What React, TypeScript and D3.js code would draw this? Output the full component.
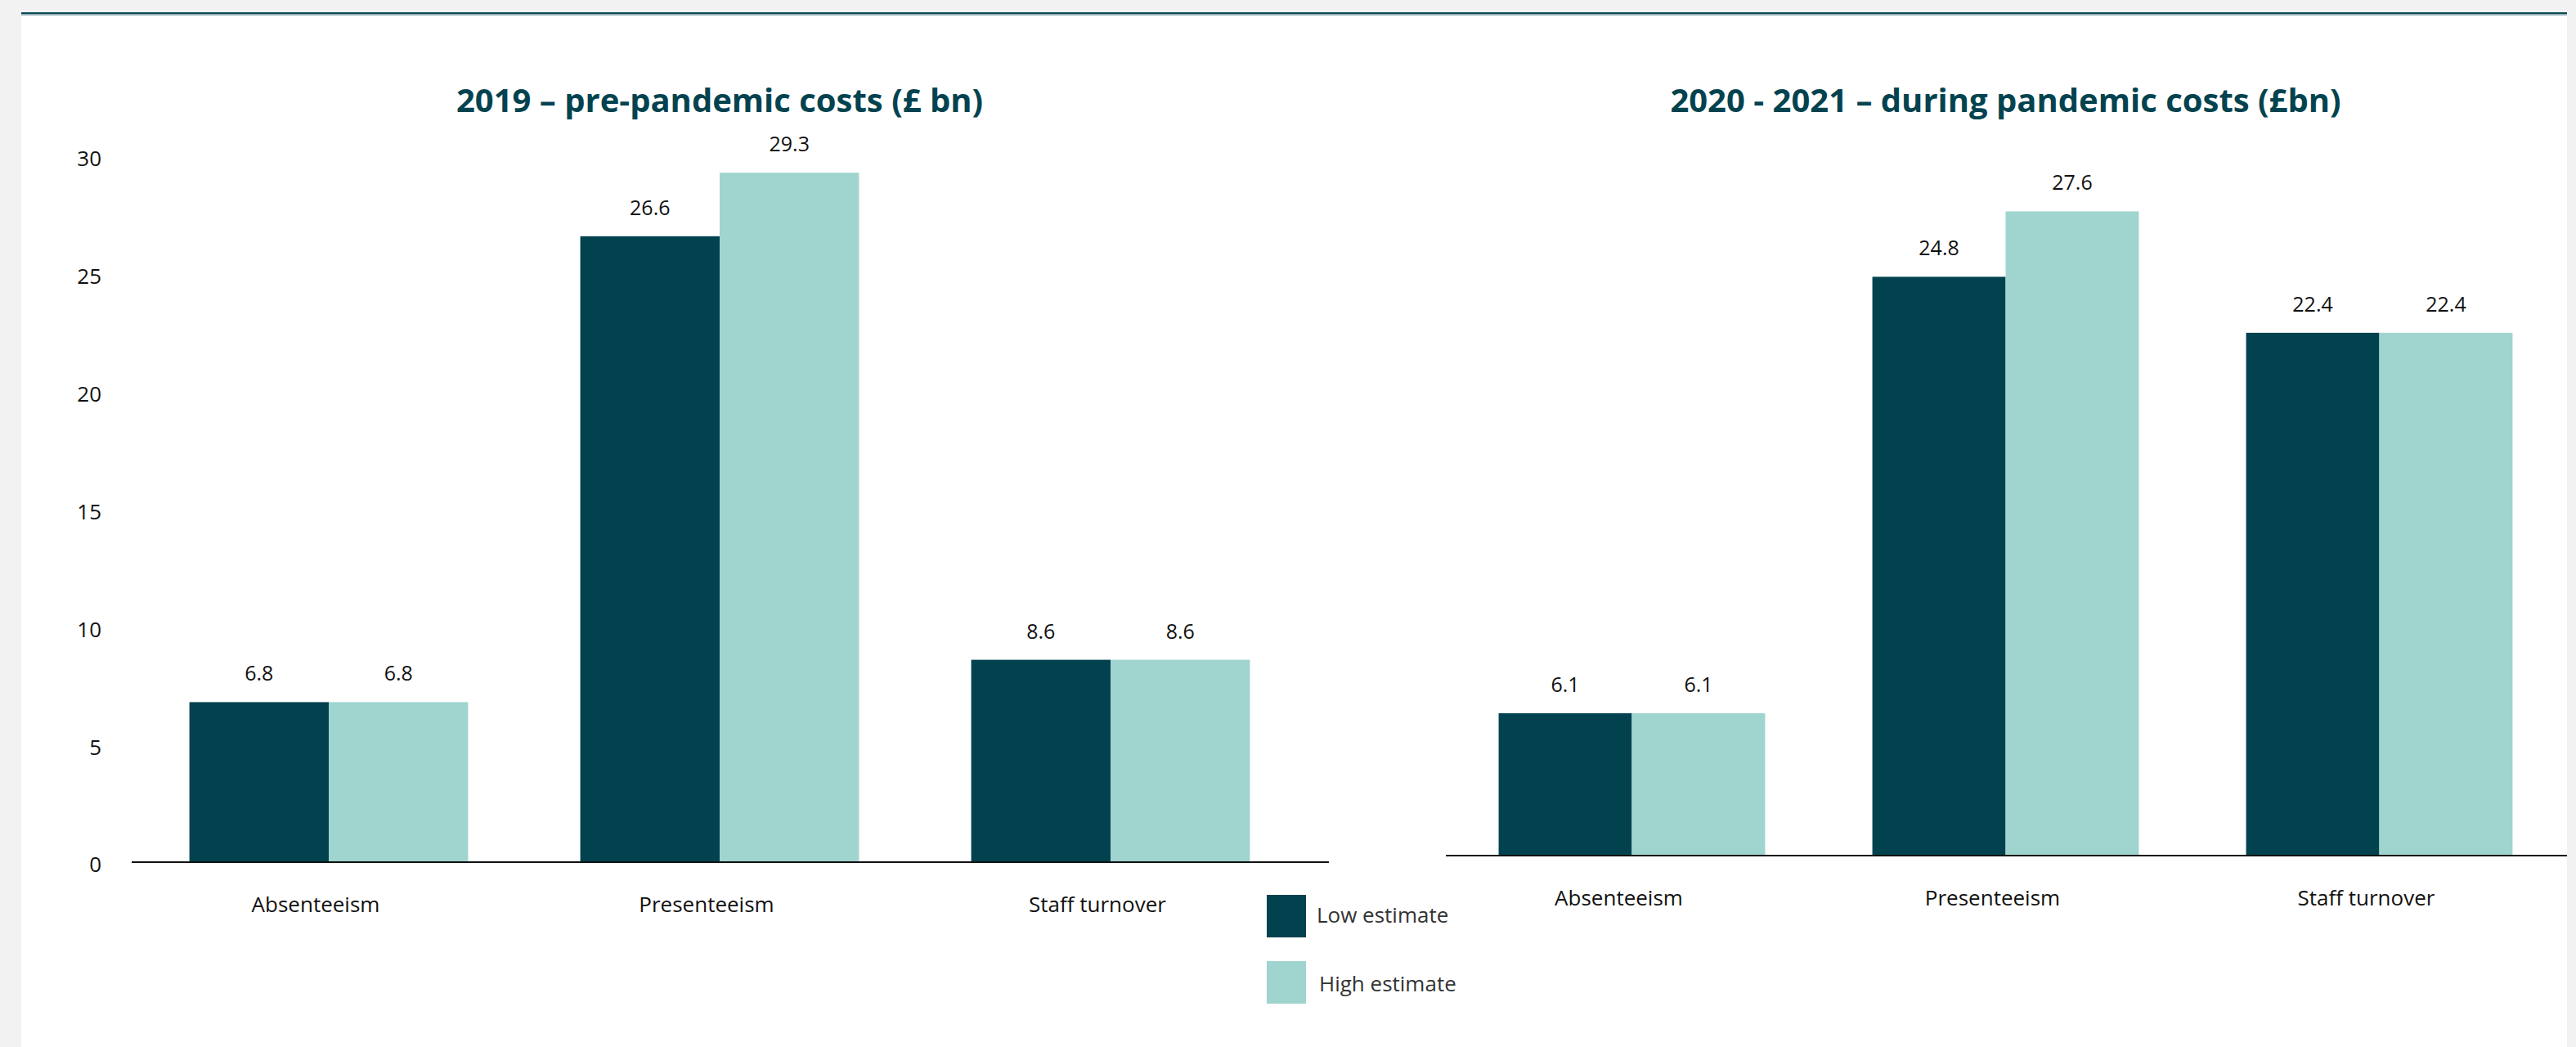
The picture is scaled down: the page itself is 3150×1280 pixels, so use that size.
import React, { useEffect } from "react";
import * as d3 from "d3";

const categories = ["Absenteeism", "Presenteeism", "Staff turnover"];
const seriesNames = ["Low estimate", "High estimate"];
const low2019 = [6.8, 26.6, 8.6];
const high2019 = [6.8, 29.3, 8.6];
const low2021 = [6.1, 24.8, 22.4];
const high2021 = [6.1, 27.6, 22.4];
const yTicks = [0, 5, 10, 15, 20, 25, 30];
const title2019 = "2019 – pre-pandemic costs (£ bn)";
const title2021 = "2020 - 2021 – during pandemic costs (£bn)";

const DARK = "#02424f";
const LIGHT = "#9fd4cf";
const FONT = "'Open Sans', 'Noto Sans', sans-serif";

type PanelProps = {
  title: string;
  low: number[];
  high: number[];
  xRange: [number, number];
  axisX: [number, number];
  yRange: [number, number];
  showTicks: boolean;
};

function Panel({ title, low, high, xRange, axisX, yRange, showTicks }: PanelProps) {
  const x = d3
    .scaleBand<string>()
    .domain(categories)
    .range(xRange)
    .paddingInner(0.287)
    .paddingOuter(0.1435);
  const xs = d3.scaleBand<string>().domain(seriesNames).range([0, x.bandwidth()]).padding(0);
  const y = d3.scaleLinear().domain([0, 30]).range(yRange);
  const values = [low, high];
  const colors = [DARK, LIGHT];
  const cx = (xRange[0] + xRange[1]) / 2;
  return (
    <g>
      <text x={cx} y={137} textAnchor="middle" fontFamily={FONT} fontWeight={700} fontSize={40} fill="#03434f">
        {title}
      </text>
      {showTicks &&
        yTicks.map((t) => (
          <text key={t} x={124} y={y(t)} dy="0.48em" textAnchor="end" fontFamily={FONT} fontSize={26} fill="#111">
            {t}
          </text>
        ))}
      {categories.map((c, i) => (
        <g key={c}>
          {seriesNames.map((s, k) => {
            const v = values[k][i];
            const bx = (x(c) as number) + (xs(s) as number);
            return (
              <g key={s}>
                <rect x={bx} y={y(v)} width={xs.bandwidth()} height={y(0) - y(v)} fill={colors[k]} />
                <text
                  x={bx + xs.bandwidth() / 2}
                  y={y(v) - 26}
                  textAnchor="middle"
                  fontFamily={FONT}
                  fontSize={25}
                  fill="#111"
                >
                  {v.toFixed(1)}
                </text>
              </g>
            );
          })}
          <text
            x={(x(c) as number) + x.bandwidth() / 2 - 16}
            y={y(0) + 61}
            textAnchor="middle"
            fontFamily={FONT}
            fontSize={26}
            fill="#111"
          >
            {c}
          </text>
        </g>
      ))}
      <line x1={axisX[0]} x2={axisX[1]} y1={y(0)} y2={y(0)} stroke="#111" strokeWidth={2} />
    </g>
  );
}

export default function App() {
  useEffect(() => {
    document.body.style.margin = "0";
  }, []);
  const legendY = d3.scalePoint<string>().domain(seriesNames).range([1094, 1175]);
  return (
    <div style={{ position: "absolute", left: 0, top: 0 }}>
      <svg width={3150} height={1280} style={{ display: "block" }}>
        <rect x={0} y={0} width={3150} height={1280} fill="#f2f2f2" />
        <rect x={26} y={15} width={3113} height={1265} fill="#ffffff" />
        <rect x={26} y={15} width={3113} height={2.5} fill="#0c4a55" />
        <rect x={26} y={17.5} width={3113} height={1.5} fill="#9bb7bd" />
        <Panel
          title={title2019}
          low={low2019}
          high={high2019}
          xRange={[163, 1597]}
          axisX={[161, 1625]}
          yRange={[1054, 191]}
          showTicks={true}
        />
        <Panel
          title={title2021}
          low={low2021}
          high={high2021}
          xRange={[1767, 3138]}
          axisX={[1768, 3139]}
          yRange={[1046, 190]}
          showTicks={false}
        />
        {seriesNames.map((s, k) => (
          <g key={s}>
            <rect x={1549} y={legendY(s)} width={48} height={52} fill={k === 0 ? DARK : LIGHT} />
            <text
              x={1610 + k * 3}
              y={(legendY(s) as number) + 34 + k * 3}
              fontFamily={FONT}
              fontSize={26}
              fill="#333"
            >
              {s}
            </text>
          </g>
        ))}
      </svg>
    </div>
  );
}
